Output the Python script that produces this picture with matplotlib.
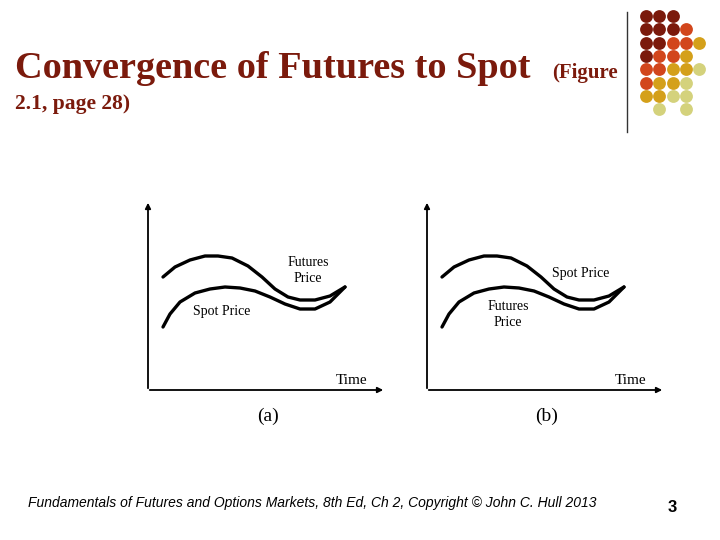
import matplotlib
matplotlib.use('Agg')
import matplotlib.pyplot as plt

# curve points (pixel coords, panel (a))
upper_x = [163, 175, 190, 205, 218, 232, 248, 262, 275, 288, 300, 315, 330, 345]
upper_y = [277, 267, 260, 256, 256, 258, 266, 277, 289, 297, 300, 300, 296, 287]
lower_x = [163, 170, 180, 195, 210, 225, 240, 255, 270, 285, 300, 315, 330, 345]
lower_y = [327, 314, 302, 293, 289, 287, 288, 291, 297, 304, 309, 309, 302, 287]
panel_dx = [0, 279]
upper_labels = ["Futures\nPrice", "Spot Price"]
lower_labels = ["Spot Price", "Futures\nPrice"]
panel_names = ["(a)", "(b)"]

# decorative dot grid: row -> list of (col, colour key)
dot_rows = ["DDD", "DDDR", "DDRRG", "DRRG", "RRGGP", "RGGP", "GGPP", " P P"]
dot_colors = {'D': '#7b1a0c', 'R': '#d2461c', 'G': '#d4a01a', 'P': '#d4d27c'}

fig = plt.figure(figsize=(7.2, 5.4), dpi=100)
ax = fig.add_axes([0, 0, 1, 1])
ax.set_xlim(0, 720)
ax.set_ylim(540, 0)
ax.axis('off')

title_c = '#7b1a0c'
ax.text(15, 78, "Convergence of Futures to Spot", fontsize=27.5,
        fontweight='bold', color=title_c, fontname='Liberation Serif')
ax.text(552, 78, "(Figure", fontname='Liberation Serif', fontsize=15, fontweight='bold', color=title_c)
ax.text(15, 109, "2.1, page 28)", fontname='Liberation Serif', fontsize=15.5, fontweight='bold', color=title_c)

ax.plot([627, 627], [12, 132], color='#333333', lw=1)
for r, row in enumerate(dot_rows):
    for c, k in enumerate(row):
        if k == ' ':
            continue
        ax.scatter(646 + 13.3 * c, 16 + 13.3 * r, s=85, color=dot_colors[k], lw=0)

for i, dx in enumerate(panel_dx):
    x0 = 148 + dx
    ax.annotate('', xy=(x0, 200), xytext=(x0, 391),
                arrowprops=dict(arrowstyle='-|>', lw=1.3, color='black', mutation_scale=8))
    ax.annotate('', xy=(386 + dx, 390), xytext=(x0 - 1, 390),
                arrowprops=dict(arrowstyle='-|>', lw=1.3, color='black', mutation_scale=8))
    ax.plot([x + dx for x in upper_x], upper_y, color='black', lw=2.4, solid_capstyle='round', solid_joinstyle='round')
    ax.plot([x + dx for x in lower_x], lower_y, color='black', lw=2.4, solid_capstyle='round', solid_joinstyle='round')
    ax.text(352 + dx, 381, "Time", fontname='Liberation Serif', fontsize=11, ha='center', va='center')
    ax.text(268 + dx, 416, panel_names[i], fontname='Liberation Serif', fontsize=14, ha='center', va='center')
    if i == 0:
        ax.text(308, 271, upper_labels[i], fontname='Liberation Serif', fontsize=10, ha='center', va='center', linespacing=1.3)
        ax.text(222, 312, lower_labels[i], fontname='Liberation Serif', fontsize=10, ha='center', va='center')
    else:
        ax.text(581, 274, upper_labels[i], fontname='Liberation Serif', fontsize=10, ha='center', va='center')
        ax.text(508, 314, lower_labels[i], fontname='Liberation Serif', fontsize=10, ha='center', va='center', linespacing=1.3)

ax.text(28, 503, "Fundamentals of Futures and Options Markets, 8th Ed, Ch 2, Copyright \u00a9 John C. Hull 2013",
        fontname='Liberation Sans', fontsize=10, style='italic', va='center')
ax.text(672, 508, "3", fontname='Liberation Sans', fontsize=12, fontweight='bold', ha='center', va='center')

fig.savefig('out.png', dpi=100)
